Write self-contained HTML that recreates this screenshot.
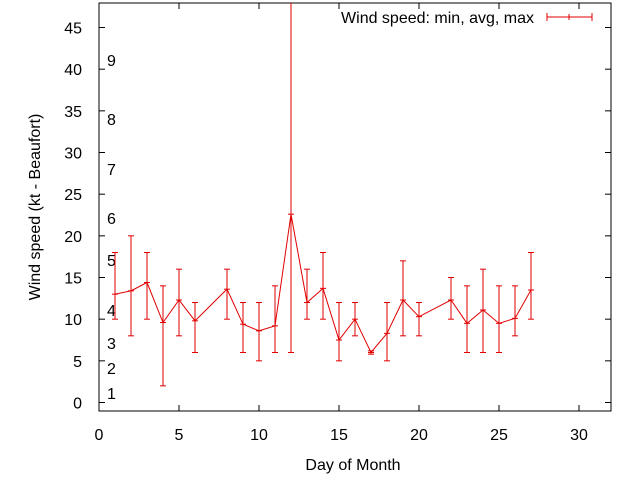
<!DOCTYPE html>
<html><head><meta charset="utf-8"><style>
body{margin:0;background:#fff}
svg text{font-family:"Liberation Sans",sans-serif;font-size:16px;fill:#000}
</style></head><body>
<svg id="chart" width="640" height="480" xmlns="http://www.w3.org/2000/svg">
<g id="axes"></g><g id="marks"></g>
<text transform="translate(40,207) rotate(-90)" text-anchor="middle">Wind speed (kt - Beaufort)</text>
<text x="353" y="470" text-anchor="middle">Day of Month</text>
<g>
<text x="534" y="23" text-anchor="end">Wind speed: min, avg, max</text>
<g stroke="#e00000" stroke-width="1"><line x1="547" y1="17" x2="592" y2="17"/><line x1="547" y1="13" x2="547" y2="21"/><line x1="592" y1="13" x2="592" y2="21"/><line x1="569" y1="14" x2="569" y2="20"/></g>
</g>
</svg>
<script>
const days=[1,2,3,4,5,6,8,9,10,11,12,13,14,15,16,17,18,19,20,22,23,24,25,26,27];
const avgs=[13.0,13.4,14.4,9.6,12.3,9.8,13.6,9.4,8.6,9.2,22.6,12.0,13.7,7.5,10.0,6.0,8.3,12.3,10.3,12.3,9.5,11.1,9.5,10.1,13.5];
const mins=[10,8,10,2,8,6,10,6,5,6,6,10,10,5,8,5.8,5,8,8,10,6,6,6,8,10];
const maxs=[18,20,18,14,16,12,16,12,12,14,50,16,18,12,12,6.2,12,17,12,15,14,16,14,14,18];
const xTicks=[0,5,10,15,20,25,30];
const yTicks=[0,5,10,15,20,25,30,35,40,45];
const beaufort=[[1,393],[2,368],[3,343],[4,310],[5,260],[6,218],[7,169],[8,119],[9,60]];
const L=99,R=611,T=3,B=411;
const X=d=>L+16*d, Y=v=>402.5-8.333*v;
const ns="http://www.w3.org/2000/svg";
function mk(t,a,p){const e=document.createElementNS(ns,t);for(const k in a)e.setAttribute(k,a[k]);p.appendChild(e);return e;}
const ax=document.getElementById('axes'),mg=document.getElementById('marks');
const fr=mk('rect',{x:L,y:T,width:R-L,height:B-T,fill:'none',stroke:'#000'},ax);


xTicks.forEach(t=>{const x=X(t);
mk('line',{x1:x,y1:B,x2:x,y2:B-6,stroke:'#000'},ax);mk('line',{x1:x,y1:T,x2:x,y2:T+6,stroke:'#000'},ax);
const tx=mk('text',{x:x,y:440,'text-anchor':'middle'},ax);tx.textContent=t;

});
yTicks.forEach(t=>{const y=Y(t);
mk('line',{x1:L,y1:y,x2:L+6,y2:y,stroke:'#000'},ax);mk('line',{x1:R,y1:y,x2:R-6,y2:y,stroke:'#000'},ax);
const tx=mk('text',{x:82,y:y+6,'text-anchor':'end'},ax);tx.textContent=t;

});
beaufort.forEach(b=>{const tx=mk('text',{x:107,y:b[1]+6},ax);tx.textContent=b[0];

});
const clip=mk('clipPath',{id:'pc'},mg);mk('rect',{x:L,y:T,width:R-L,height:B-T},clip);
const g=mk('g',{'clip-path':'url(#pc)',stroke:'#e00000',fill:'none'},mg);
days.forEach((d,i)=>{const x=X(d);
const e=mk('g',{},g);


mk('line',{x1:x,y1:Y(mins[i]),x2:x,y2:Y(maxs[i])},e);
mk('line',{x1:x-3,y1:Y(mins[i]),x2:x+3,y2:Y(mins[i])},e);
mk('line',{x1:x-3,y1:Y(maxs[i]),x2:x+3,y2:Y(maxs[i])},e);
mk('line',{x1:x-3,y1:Y(avgs[i]),x2:x+3,y2:Y(avgs[i])},e);});
const pl=mk('polyline',{points:days.map((d,i)=>X(d)+','+Y(avgs[i])).join(' '),stroke:'#e00000',fill:'none'},g);


</script>
</body></html>
